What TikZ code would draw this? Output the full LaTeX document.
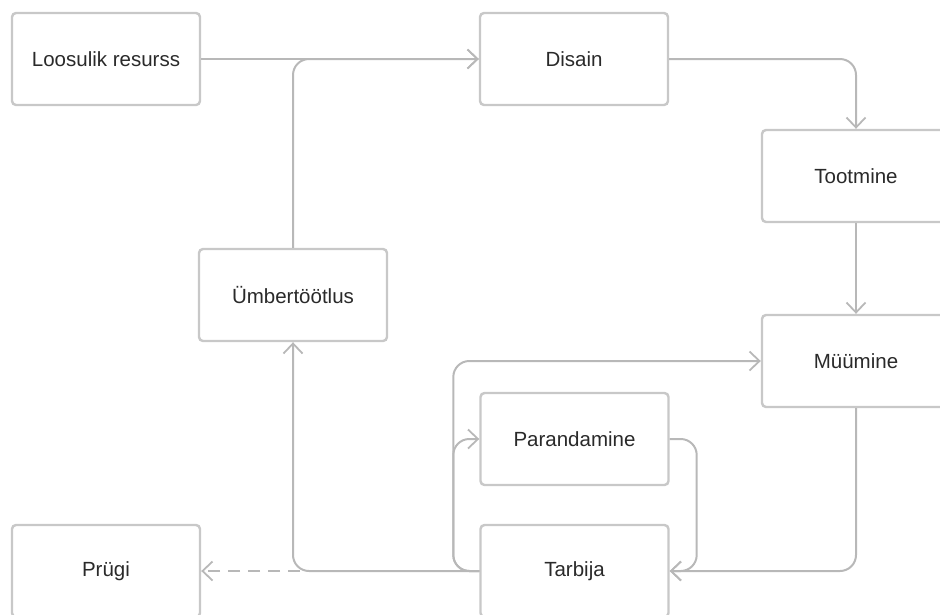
\documentclass[tikz,border=0pt]{standalone}
\usepackage{fontspec}
\setmainfont{Liberation Sans}
\usetikzlibrary{arrows.meta}
\definecolor{boxc}{HTML}{C8C8C8}
\definecolor{linec}{HTML}{B8B8B8}
\definecolor{txt}{HTML}{2A2A2A}
\begin{document}
\begin{tikzpicture}[x=1pt,y=-1pt,
  stepbox/.style={draw=boxc,line width=2.4pt,rounded corners=4pt,fill=white,
    minimum width=188pt,minimum height=92pt,inner sep=0pt,text=txt,
    font=\fontsize{20.5}{24}\selectfont},
  conn/.style={draw=linec,line width=2pt,rounded corners=16pt,
    -{Straight Barb[length=10pt,width=19pt,line width=1.8pt]}},
  dconn/.style={conn,dash pattern=on 12pt off 8pt,rounded corners=0pt}]
\path[use as bounding box,clip] (0,0) rectangle (940,614);
\node[stepbox] (lr) at (106,59) {Loosulik resurss};
\node[stepbox] (dis) at (574,59) {Disain};
\node[stepbox] (toot) at (856,176) {Tootmine};
\node[stepbox] (muu) at (856,361) {Müümine};
\node[stepbox] (umb) at (293,295) {Ümbertöötlus};
\node[stepbox] (par) at (574.5,439) {Parandamine};
\node[stepbox] (tar) at (574.5,571) {Tarbija};
\node[stepbox] (pru) at (106,571) {Prügi};
\coordinate (dstart) at (300,571);
\draw[conn] (lr.east) -- (dis.west);
\draw[conn] (umb.north) |- (dis.west);
\draw[conn] (dis.east) -| (toot.north);
\draw[conn] (toot.south) -- (muu.north);
\draw[conn] (muu.south) |- (tar.east);
\draw[conn] (par.east) -- ++(27,0) |- (tar.east);
\draw[conn] (tar.west) -- ++(-26,0) |- (par.west);
\draw[conn] (tar.west) -- ++(-26,0) |- (muu.west);
\draw[conn] (tar.west) -| (umb.south);
\draw[dconn] (dstart) -- (pru.east);
\end{tikzpicture}
\end{document}
